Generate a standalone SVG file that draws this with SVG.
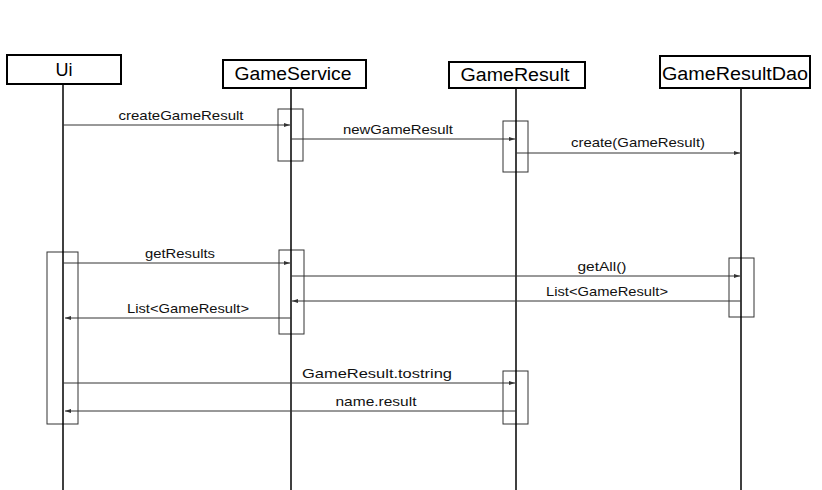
<svg xmlns="http://www.w3.org/2000/svg" width="822" height="490" viewBox="0 0 822 490">
<style>
.box{fill:#fff;stroke:#000;stroke-width:2}
.life{stroke:#000;stroke-width:1.5}
.act{fill:none;stroke:#333;stroke-width:1}
.head{font-family:"Liberation Sans",Arial,sans-serif;font-size:18px;fill:#000;text-anchor:middle}
.lbl{font-family:"Liberation Sans",Arial,sans-serif;font-size:13px;fill:#111;text-anchor:middle}
.msg{stroke:#333;stroke-width:1;fill:none;marker-end:url(#ah)}
</style>
<defs>
<marker id="ah" markerWidth="6" markerHeight="4" refX="6" refY="2" orient="auto" markerUnits="userSpaceOnUse">
<path d="M0,0 L6,2 L0,4 Z" fill="#333"/>
</marker>
</defs>
<rect width="822" height="490" fill="#fff"/>
<g id="activations">
<rect class="act" x="278" y="109" width="25" height="52"/>
<rect class="act" x="503" y="121" width="25" height="51"/>
<rect class="act" x="47" y="252" width="31" height="172"/>
<rect class="act" x="279" y="250" width="25" height="84"/>
<rect class="act" x="729" y="258" width="25" height="59"/>
<rect class="act" x="503" y="371" width="25" height="53"/>
</g>
<g id="Ui">
<line class="life" x1="63" y1="84" x2="63" y2="490"/>
<rect class="box" x="7" y="55" width="114" height="29"/>
<text class="head" x="64" y="76">Ui</text>
</g>
<g id="GameService">
<line class="life" x1="291" y1="88" x2="291" y2="490"/>
<rect class="box" x="223" y="60" width="143" height="28"/>
<text class="head" x="293" y="80" textLength="117" lengthAdjust="spacingAndGlyphs">GameService</text>
</g>
<g id="GameResult">
<line class="life" x1="516" y1="88" x2="516" y2="490"/>
<rect class="box" x="449" y="62" width="136" height="26"/>
<text class="head" x="515" y="81" textLength="109" lengthAdjust="spacingAndGlyphs">GameResult</text>
</g>
<g id="GameResultDao">
<line class="life" x1="741" y1="88" x2="741" y2="490"/>
<rect class="box" x="660" y="56" width="150" height="32"/>
<text class="head" x="735" y="80" textLength="146" lengthAdjust="spacingAndGlyphs">GameResultDao</text>
</g>
<g id="connectors">
<line class="msg" x1="63" y1="125" x2="290" y2="125"/>
<text class="lbl" x="181" y="120" textLength="125" lengthAdjust="spacingAndGlyphs">createGameResult</text>
<line class="msg" x1="291" y1="139" x2="515" y2="139"/>
<text class="lbl" x="398" y="134" textLength="110" lengthAdjust="spacingAndGlyphs">newGameResult</text>
<line class="msg" x1="516" y1="153" x2="740" y2="153"/>
<text class="lbl" x="638" y="147" textLength="134" lengthAdjust="spacingAndGlyphs">create(GameResult)</text>
<line class="msg" x1="63" y1="263" x2="290" y2="263"/>
<text class="lbl" x="180" y="258" textLength="70" lengthAdjust="spacingAndGlyphs">getResults</text>
<line class="msg" x1="291" y1="276" x2="740" y2="276"/>
<text class="lbl" x="602" y="271" textLength="49" lengthAdjust="spacingAndGlyphs">getAll()</text>
<line class="msg" x1="741" y1="301" x2="292" y2="301"/>
<text class="lbl" x="607" y="296" textLength="122" lengthAdjust="spacingAndGlyphs">List&lt;GameResult&gt;</text>
<line class="msg" x1="291" y1="318" x2="65" y2="318"/>
<text class="lbl" x="188" y="313" textLength="122" lengthAdjust="spacingAndGlyphs">List&lt;GameResult&gt;</text>
<line class="msg" x1="63" y1="383" x2="515" y2="383"/>
<text class="lbl" x="377" y="378" textLength="150" lengthAdjust="spacingAndGlyphs">GameResult.tostring</text>
<line class="msg" x1="516" y1="411" x2="65" y2="411"/>
<text class="lbl" x="376" y="406" textLength="81" lengthAdjust="spacingAndGlyphs">name.result</text>
</g>
</svg>
